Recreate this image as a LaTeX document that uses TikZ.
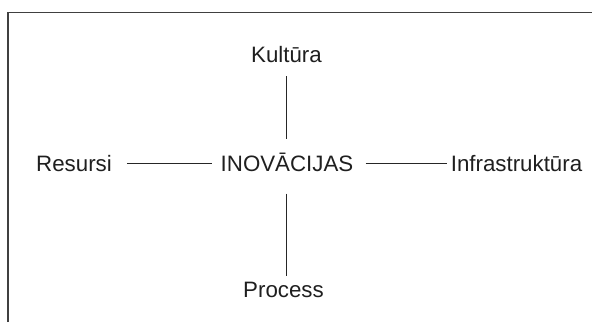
\documentclass[tikz,border=0pt]{standalone}
\usepackage{fontspec}
\setmainfont{Liberation Sans}
\begin{document}
\begin{tikzpicture}[x=1bp,y=-1bp,
  lbl/.style={inner sep=0pt, anchor=base, text=black!88, font=\fontsize{22.3bp}{25bp}\selectfont, text height=15.8bp, text depth=0pt},
  conn/.style={draw=black!85, line width=1.2bp}]
\useasboundingbox (0,0) rectangle (592,322);
\draw[draw=black!75, line width=1.4bp] (8,322) -- (8,12.5) -- (592,12.5);
\node[lbl] (kul) at (286.5,62) {Kultūra};
\node[lbl] (ino) at (287,171.5) {INOVĀCIJAS};
\node[lbl] (pro) at (283.5,297) {Process};
\node[lbl] (res) at (74,171.5) {Resursi};
\node[lbl] (inf) at (516.5,171.5) {Infrastruktūra};
\draw[conn, shorten <=14bp, shorten >=17bp] (kul.south) -- (kul.south |- ino.north);
\draw[conn, shorten <=22bp, shorten >=5bp] (ino.south -| kul.south) -- (kul.south |- pro.north);
\draw[conn, shorten <=15bp, shorten >=9bp] ([yshift=0.5bp]res.east) -- ([yshift=0.5bp]res.east -| ino.west);
\draw[conn, shorten <=12bp, shorten >=4bp] ([yshift=0.5bp]ino.east) -- ([yshift=0.5bp]ino.east -| inf.west);
\end{tikzpicture}
\end{document}
